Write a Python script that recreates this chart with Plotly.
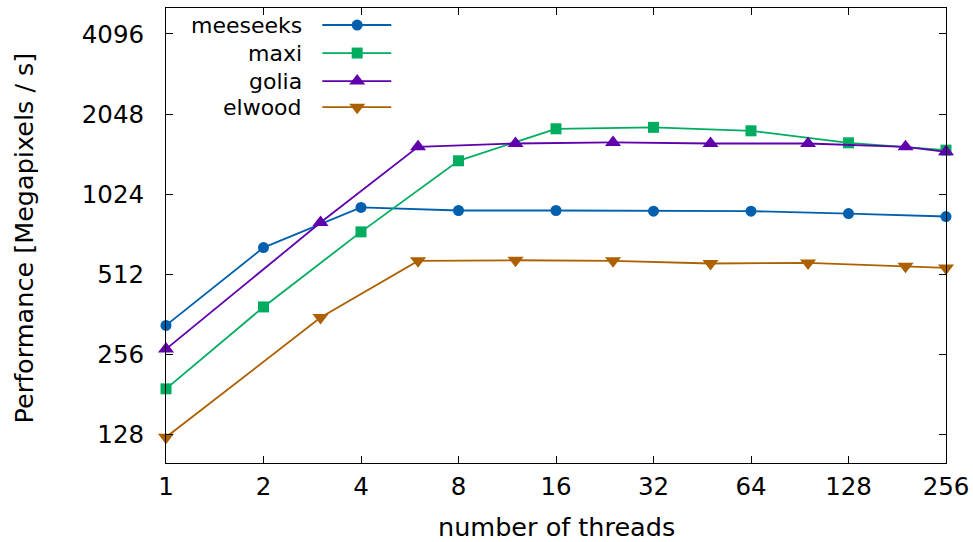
import plotly.graph_objects as go

# ---- data ----
threads_a = [1, 2, 4, 8, 16, 32, 64, 128, 256]
threads_b = [1, 3, 6, 12, 24, 48, 96, 192, 256]

meeseeks = [329, 645, 913, 889, 889, 884, 884, 866, 844]
maxi = [190, 386, 739, 1367, 1803, 1826, 1772, 1597, 1499]
golia = [268, 801, 1543, 1588, 1602, 1588, 1588, 1543, 1477]
elwood = [125, 352, 575, 578, 575, 562, 565, 549, 541]

x_ticks = [1, 2, 4, 8, 16, 32, 64, 128, 256]
y_ticks = [128, 256, 512, 1024, 2048, 4096]

series = [
    ("meeseeks", threads_a, meeseeks, "#0060ad", "circle", 11),
    ("maxi", threads_a, maxi, "#00ad60", "square", 11),
    ("golia", threads_b, golia, "#6000ad", "triangle-up", 14),
    ("elwood", threads_b, elwood, "#ad6000", "triangle-down", 14),
]

FONT = "DejaVu Sans"
fig = go.Figure()

for name, xs, ys, col, sym, sz in series:
    fig.add_trace(go.Scatter(
        x=xs, y=ys, mode="lines+markers", name=name,
        line=dict(color=col, width=1.8),
        marker=dict(symbol=sym, size=sz, color=col, line=dict(width=0)),
        showlegend=False, cliponaxis=False,
    ))

# ---- manual gnuplot-style key (text left, sample right) ----
key_y = [0.9626, 0.901, 0.8395, 0.782]
for (name, xs, ys, col, sym, sz), ky in zip(series, key_y):
    fig.add_trace(go.Scatter(
        x=[0.2004, 0.2888], y=[ky, ky], mode="lines",
        line=dict(color=col, width=1.8), xaxis="x2", yaxis="y2",
        showlegend=False, hoverinfo="skip",
    ))
    fig.add_trace(go.Scatter(
        x=[0.2451], y=[ky], mode="markers",
        marker=dict(symbol=sym, size=sz, color=col, line=dict(width=0)),
        xaxis="x2", yaxis="y2", showlegend=False, hoverinfo="skip",
    ))
    fig.add_annotation(
        x=0.1773, y=ky, xref="paper", yref="paper", text=name,
        showarrow=False, xanchor="right", yanchor="middle",
        font=dict(family=FONT, size=22, color="#000000"),
    )

# axis titles as annotations for exact placement
fig.add_annotation(
    x=0.5, y=-0.1414, xref="paper", yref="paper", text="number of threads",
    showarrow=False, xanchor="center", yanchor="middle",
    font=dict(family=FONT, size=25.5, color="#000000"),
)
fig.add_annotation(
    x=-0.1817, y=0.494, xref="paper", yref="paper",
    text="Performance [Megapixels / s]", textangle=-90,
    showarrow=False, xanchor="center", yanchor="middle",
    font=dict(family=FONT, size=25.5, color="#000000"),
)

axis_common = dict(
    showgrid=False, zeroline=False, showline=True, linecolor="#000000",
    linewidth=1, mirror="ticks", ticks="inside", ticklen=7, automargin=False,
    tickcolor="#000000", tickfont=dict(family=FONT, size=24.5, color="#000000"),
)

fig.update_layout(
    width=973, height=542,
    margin=dict(l=166, r=27, t=8, b=79),
    paper_bgcolor="white", plot_bgcolor="white",
    xaxis=dict(
        type="log", range=[0, 2.40824], tickvals=x_ticks,
        ticktext=[str(v) for v in x_ticks], ticklabelstandoff=2,
        **axis_common,
    ),
    yaxis=dict(
        type="log", range=[2.0, 3.71], tickvals=y_ticks,
        ticktext=[str(v) for v in y_ticks], ticklabelstandoff=16,
        **axis_common,
    ),
    xaxis2=dict(range=[0, 1], overlaying="x", visible=False, fixedrange=True),
    yaxis2=dict(range=[0, 1], overlaying="y", visible=False, fixedrange=True),
    showlegend=False,
)

fig.write_html("out.html")
